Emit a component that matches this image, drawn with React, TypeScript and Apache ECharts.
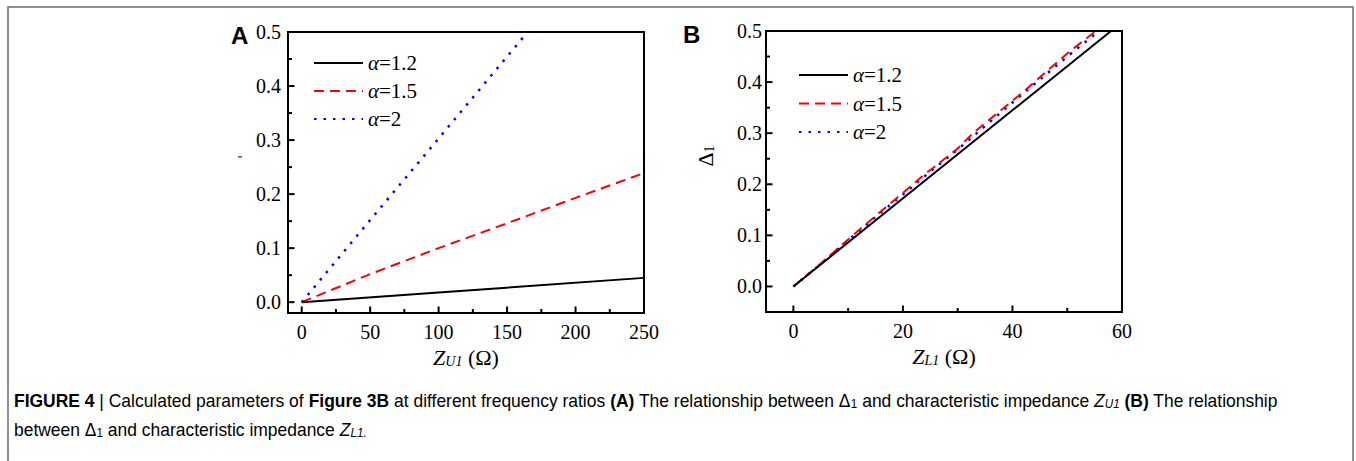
import React, { useEffect, useRef } from "react";
import * as echarts from "echarts";

// ---- data ----
const seriesNames = ["α=1.2", "α=1.5", "α=2"];

// Panel A: Δ1 vs Z_U1
const zu1Alpha12: number[][] = [[0, 0], [100, 0.018], [250, 0.045]];
const zu1Alpha15: number[][] = [[0, 0], [50, 0.052], [100, 0.1], [150, 0.146], [200, 0.193], [250, 0.239]];
const zu1Alpha2: number[][] = [[0, 0], [50, 0.152], [100, 0.303], [165, 0.5]];

// Panel B: Δ1 vs Z_L1
const zl1Alpha12: number[][] = [[0, 0], [58, 0.5]];
const zl1Alpha15: number[][] = [
  [0, 0], [5, 0.045], [10, 0.092], [15, 0.138], [20, 0.183], [24, 0.22], [26, 0.236],
  [30, 0.27], [33, 0.302], [37, 0.337], [42, 0.381], [46, 0.419], [50, 0.456], [55.2, 0.5],
];
const zl1Alpha2: number[][] = [
  [0, 0], [5, 0.044], [10, 0.09], [15, 0.136], [20, 0.18], [25, 0.225], [30, 0.268],
  [35, 0.314], [40, 0.36], [45, 0.405], [50, 0.45], [55.8, 0.5],
];

// axis ranges
const xRangeA = [-10, 250];
const yRangeA = [-0.02, 0.5];
const xRangeB = [-5, 60];
const yRangeB = [-0.05, 0.5];

// ticks
const xTicksA = [0, 50, 100, 150, 200, 250];
const xMinorA = [25, 75, 125, 175, 225];
const xTicksB = [0, 20, 40, 60];
const xMinorB = [10, 30, 50];
const yTicks = [0, 0.1, 0.2, 0.3, 0.4, 0.5];
const yMinor = [0.05, 0.15, 0.25, 0.35, 0.45];

// caption: [style, text] parts
type Part = [string, string];
const captionLine1: Part[] = [
  ["b", "FIGURE 4"], ["n", " | Calculated parameters of "], ["b", "Figure 3B"], ["n", " at different frequency ratios "],
  ["b", "(A)"], ["n", " The relationship between Δ"], ["s", "1"], ["n", " and characteristic impedance "],
  ["zi", "Z"], ["zs", "U1"], ["n", " "], ["b", "(B)"], ["n", " The relationship"],
];
const captionLine2: Part[] = [["n", "between Δ"], ["s", "1"], ["n", " and characteristic impedance "], ["zi", "Z"], ["zs", "L1."]];

const SERIF = "'Liberation Serif', 'Times New Roman', serif";
const SANS = "'Liberation Sans', Arial, sans-serif";

const lineStyles = [
  { color: "#000000", width: 2, type: "solid" as any },
  { color: "#ff0000", width: 2, type: [10, 6] as any },
  { color: "#0000ff", width: 2.5, type: [2.5, 7] as any },
];

const CAP_SIZE = 18;
const SUB_SIZE = 12;
const capFonts: Record<string, string> = {
  b: `bold ${CAP_SIZE}px ${SANS}`,
  n: `${CAP_SIZE}px ${SANS}`,
  s: `${SUB_SIZE}px ${SANS}`,
  zi: `italic ${CAP_SIZE}px ${SANS}`,
  zs: `italic ${SUB_SIZE}px ${SANS}`,
};

export default function App() {
  const ref = useRef<HTMLDivElement>(null);
  useEffect(() => {
    if (!ref.current) return;
    const chart = echarts.init(ref.current, undefined, { renderer: "svg" });

    const canvas = document.createElement("canvas");
    const ctx = canvas.getContext("2d")!;
    const measure = (parts: Part[]) =>
      parts.reduce((w, [s, t]) => {
        ctx.font = capFonts[s];
        return w + ctx.measureText(t).width;
      }, 0);
    const toRich = (parts: Part[]) => parts.map(([s, t]) => `{${s}|${t}}`).join("");

    const capRich = {
      b: { fontFamily: SANS, fontWeight: "bold", fontSize: CAP_SIZE, color: "#1a1a1a" },
      n: { fontFamily: SANS, fontSize: CAP_SIZE, color: "#1a1a1a" },
      s: { fontFamily: SANS, fontSize: SUB_SIZE, color: "#1a1a1a", verticalAlign: "bottom", lineHeight: 9 },
      zi: { fontFamily: SANS, fontStyle: "italic", fontSize: CAP_SIZE, color: "#1a1a1a" },
      zs: { fontFamily: SANS, fontStyle: "italic", fontSize: SUB_SIZE, color: "#1a1a1a", verticalAlign: "bottom", lineHeight: 9 },
    };

    const capX0 = 14;
    const capX1 = 1278;
    const capSX = (capX1 - capX0) / measure(captionLine1);

    const xAxisOpt = (gridIndex: number, range: number[], ticks: number[], name: string) => ({
      type: "value",
      gridIndex,
      min: range[0],
      max: range[1],
      position: "bottom",
      name,
      nameLocation: "middle",
      nameGap: 33,
      nameTextStyle: {
        fontFamily: SERIF,
        fontSize: 22,
        color: "#000",
        rich: {
          z: { fontFamily: SERIF, fontStyle: "italic", fontSize: 22, color: "#000" },
          s: { fontFamily: SERIF, fontStyle: "italic", fontSize: 14, color: "#000", verticalAlign: "bottom", lineHeight: 9 },
          n: { fontFamily: SERIF, fontSize: 22, color: "#000" },
        },
      },
      axisLine: { show: true, onZero: false, lineStyle: { color: "#000", width: 2 } },
      splitLine: { show: false },
      axisTick: { show: false },
      axisLabel: { customValues: ticks, fontFamily: SERIF, fontSize: 20, color: "#000", margin: 9 },
    });
    const yAxisOpt = (gridIndex: number, range: number[], margin: number) => ({
      type: "value",
      gridIndex,
      min: range[0],
      max: range[1],
      position: "left",
      axisLine: { show: true, onZero: false, lineStyle: { color: "#000", width: 2 } },
      splitLine: { show: false },
      axisTick: { show: false },
      axisLabel: {
        customValues: yTicks,
        fontFamily: SERIF,
        fontSize: 20,
        color: "#000",
        margin,
        formatter: (v: number) => v.toFixed(1),
      },
    });

    const mkSeries = (data: number[][], i: number, axisIndex: number) => ({
      type: "line",
      name: seriesNames[i],
      data,
      xAxisIndex: axisIndex,
      yAxisIndex: axisIndex,
      symbol: "none",
      showSymbol: false,
      lineStyle: lineStyles[i],
      itemStyle: { color: lineStyles[i].color },
      z: 3 - i,
    });

    const legendCommon = {
      orient: "vertical",
      padding: 0,
      itemWidth: 49,
      itemHeight: 14,
      data: seriesNames,
      selectedMode: false,
      itemStyle: { opacity: 0, borderWidth: 0 },
      textStyle: {
        fontFamily: SERIF,
        fontSize: 21,
        lineHeight: 22,
        color: "#000",
        rich: {
          i: { fontFamily: SERIF, fontStyle: "italic", fontSize: 21, lineHeight: 22, color: "#000" },
          n: { fontFamily: SERIF, fontSize: 21, lineHeight: 22, color: "#000" },
        },
      },
      formatter: (name: string) => `{i|${name.slice(0, 1)}}{n|${name.slice(1)}}`,
    };

    const baseGraphic: any[] = [
      {
        type: "polyline",
        shape: { points: [[8, 461], [8, 7], [1353, 7], [1353, 461]] },
        style: { stroke: "#6e6e6e", lineWidth: 1.5, fill: "none" },
        silent: true,
      },
      {
        type: "text",
        x: 231,
        y: 35,
        style: { text: "A", font: `bold 24px ${SANS}`, fill: "#000", verticalAlign: "middle", align: "left" },
      },
      {
        type: "text",
        x: 683,
        y: 34,
        style: { text: "B", font: `bold 24px ${SANS}`, fill: "#000", verticalAlign: "middle", align: "left" },
      },
      {
        type: "rect",
        shape: { x: 238, y: 156, width: 4, height: 1.5 },
        style: { fill: "#555" },
        silent: true,
      },
      {
        type: "text",
        x: 705,
        y: 156,
        rotation: Math.PI / 2,
        style: {
          text: "{n|Δ}{s|1}",
          align: "center",
          verticalAlign: "middle",
          rich: {
            n: { fontFamily: SERIF, fontSize: 22, color: "#000" },
            s: { fontFamily: SERIF, fontSize: 14, color: "#000", verticalAlign: "bottom", lineHeight: 10 },
          },
        },
      },
      {
        type: "text",
        x: capX0,
        y: 401,
        scaleX: capSX,
        style: { text: toRich(captionLine1), verticalAlign: "middle", align: "left", rich: capRich },
        silent: true,
      },
      {
        type: "text",
        x: capX0,
        y: 430,
        scaleX: capSX,
        style: { text: toRich(captionLine2), verticalAlign: "middle", align: "left", rich: capRich },
        silent: true,
      },
    ];

    chart.setOption({
      animation: false,
      backgroundColor: "#ffffff",
      grid: [
        { left: 288, top: 32, width: 356, height: 281, show: true, borderColor: "#000", borderWidth: 2, backgroundColor: "transparent" },
        { left: 766, top: 31, width: 356, height: 281, show: true, borderColor: "#000", borderWidth: 2, backgroundColor: "transparent" },
      ],
      xAxis: [
        xAxisOpt(0, xRangeA, xTicksA, "{z|Z}{s|U1}{n| (Ω)}"),
        xAxisOpt(1, xRangeB, xTicksB, "{z|Z}{s|L1}{n| (Ω)}"),
      ],
      yAxis: [yAxisOpt(0, yRangeA, 7), yAxisOpt(1, yRangeB, 4)],
      legend: [
        { ...legendCommon, left: 313, top: 52, itemGap: 6 },
        { ...legendCommon, left: 798, top: 64, itemGap: 6.5 },
      ],
      series: [
        mkSeries(zu1Alpha12, 0, 0),
        mkSeries(zu1Alpha15, 1, 0),
        mkSeries(zu1Alpha2, 2, 0),
        mkSeries(zl1Alpha12, 0, 1),
        mkSeries(zl1Alpha15, 1, 1),
        mkSeries(zl1Alpha2, 2, 1),
      ],
      graphic: baseGraphic,
    } as any);

    // inward tick marks, positioned through the axes' scales
    const tickEls: any[] = [];
    const addTicks = (gridIndex: number, xs: number[], ys: number[], xMin: number, yMin: number, len: number) => {
      xs.forEach((v) => {
        const p = chart.convertToPixel({ gridIndex } as any, [v, yMin]) as number[];
        if (!p) return;
        tickEls.push({
          type: "line",
          shape: { x1: p[0], y1: p[1], x2: p[0], y2: p[1] - len },
          style: { stroke: "#000", lineWidth: 2 },
          silent: true,
          z: 50,
        });
      });
      ys.forEach((v) => {
        const p = chart.convertToPixel({ gridIndex } as any, [xMin, v]) as number[];
        if (!p) return;
        tickEls.push({
          type: "line",
          shape: { x1: p[0], y1: p[1], x2: p[0] + len, y2: p[1] },
          style: { stroke: "#000", lineWidth: 2 },
          silent: true,
          z: 50,
        });
      });
    };
    addTicks(0, xTicksA, yTicks, xRangeA[0], yRangeA[0], 6.5);
    addTicks(0, xMinorA, yMinor, xRangeA[0], yRangeA[0], 4);
    addTicks(1, xTicksB, yTicks, xRangeB[0], yRangeB[0], 6.5);
    addTicks(1, xMinorB, yMinor, xRangeB[0], yRangeB[0], 4);

    chart.setOption({ graphic: [...baseGraphic, ...tickEls] } as any);

    return () => chart.dispose();
  }, []);

  return (
    <div
      ref={ref}
      style={{ position: "absolute", left: 0, top: 0, width: 1356, height: 461, background: "#fff" }}
    />
  );
}
